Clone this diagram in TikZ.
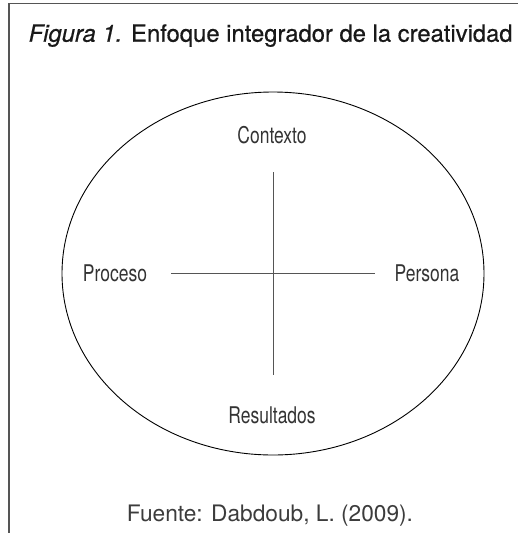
\documentclass[tikz,border=0pt]{standalone}
\usepackage{fontspec}
\setmainfont{TeX Gyre Heros}
\newfontfamily\condfont[FakeStretch=0.76]{TeX Gyre Heros}
\newfontfamily\titlefont[FakeBold=0.6]{TeX Gyre Heros}
\definecolor{linegray}{HTML}{555555}
\definecolor{textgray}{HTML}{333333}
\definecolor{srcgray}{HTML}{3C3C3C}
\begin{document}
\begin{tikzpicture}[x=1pt,y=-1pt,
  lbl/.style={font=\condfont\fontsize{23}{25}\selectfont, text=textgray, inner sep=0pt, anchor=base},
  axis/.style={draw=linegray, line width=0.9pt},
  frame/.style={draw=linegray, line width=1.4pt}]
\useasboundingbox (0,0) rectangle (527,533);
\draw[frame] (9,533) -- (9,3.5) -- (518,3.5);
\node[inner sep=0pt, anchor=base west, text=black!90] (title) at (28.5,41.7)
  {\titlefont\fontsize{23.8}{26}\selectfont\textit{Figura 1.} Enfoque integrador de la creatividad};
\draw[line width=0.9pt] (273,273.5) ellipse [x radius=211, y radius=181.5];
\coordinate (top) at (273,172);
\coordinate (bot) at (273,375);
\coordinate (lft) at (171,273);
\coordinate (rgt) at (375,273);
\draw[axis] (top) -- (bot);
\draw[axis] (lft) -- (rgt);
\node[lbl] (ctx) at (272,143.3) {Contexto};
\node[lbl] (res) at (272,423) {Resultados};
\node[lbl] (pro) at (115,281.7) {Proceso};
\node[lbl] (per) at (427,281.7) {Persona};
\node[inner sep=0pt, anchor=base, text=srcgray] (src) at (270,521)
  {\fontsize{22.7}{25}\selectfont Fuente: Dabdoub, L. (2009).};
\end{tikzpicture}
\end{document}
